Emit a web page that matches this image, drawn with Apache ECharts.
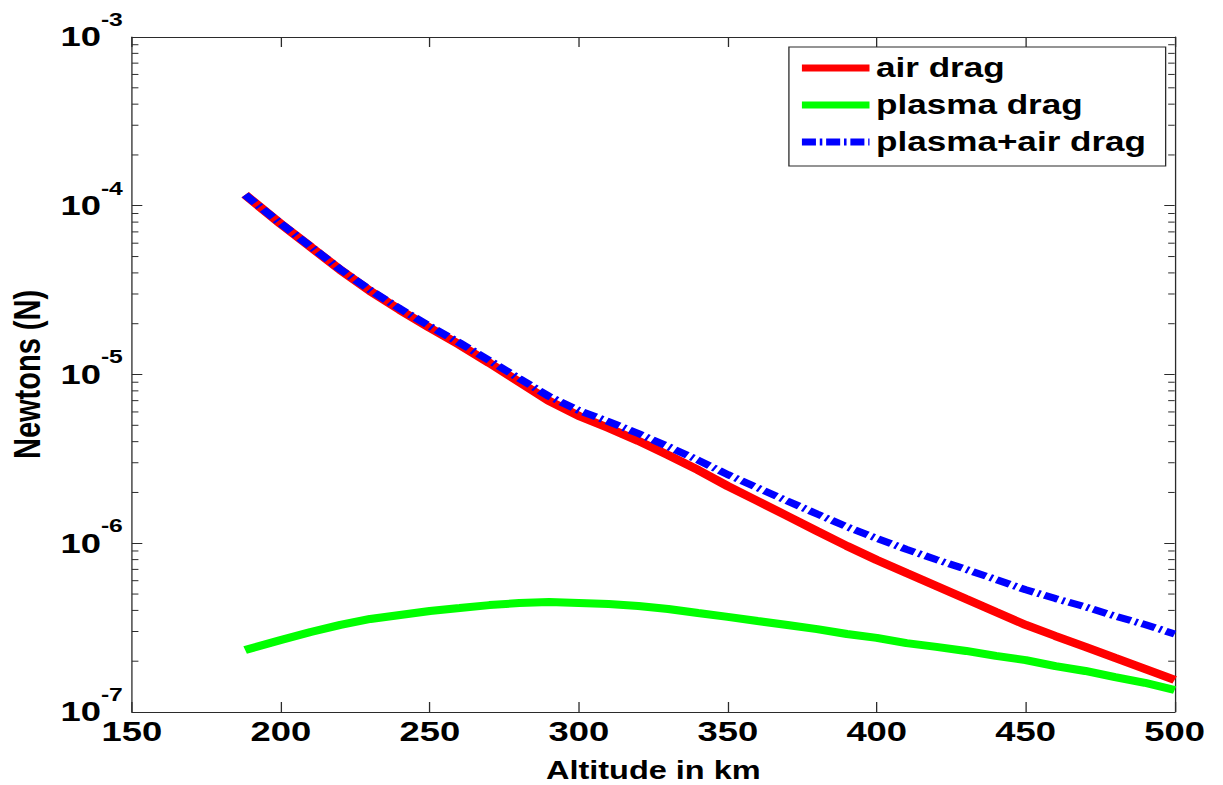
<!DOCTYPE html>
<html>
<head>
<meta charset="utf-8">
<script src="https://cdn.jsdelivr.net/npm/echarts@6/dist/echarts.min.js"></script>
<style>
  html, body { margin: 0; padding: 0; background: #fff; overflow: hidden; }
  #stage { width: 1223px; height: 785px; overflow: hidden; }
  /* the figure is laid out at its native width and stretched to fill the page */
  #chart { width: 941px; height: 785px; transform-origin: 0 0; transform: scaleX(1.2997); }
</style>
</head>
<body>
<div id="stage"><div id="chart"></div></div>
<script>
// Altitude samples (km)
const altitude = [188, 200, 210, 220, 230, 240, 250, 260, 270, 280, 290, 300, 310, 320, 330, 340,
                  350, 360, 370, 380, 390, 400, 410, 420, 430, 440, 450, 460, 470, 480, 490, 500];

// Drag force (N)
const airDrag = [1.16e-4, 7.80e-5, 5.70e-5, 4.16e-5, 3.12e-5, 2.41e-5, 1.89e-5, 1.50e-5, 1.17e-5, 9.03e-6,
                 6.97e-6, 5.68e-6, 4.82e-6, 4.04e-6, 3.33e-6, 2.72e-6, 2.18e-6, 1.78e-6, 1.45e-6, 1.18e-6,
                 9.63e-7, 7.96e-7, 6.66e-7, 5.58e-7, 4.67e-7, 3.91e-7, 3.28e-7, 2.82e-7, 2.43e-7, 2.09e-7,
                 1.80e-7, 1.55e-7];

const plasmaDrag = [2.33e-7, 2.67e-7, 2.98e-7, 3.28e-7, 3.56e-7, 3.76e-7, 3.97e-7, 4.13e-7, 4.30e-7, 4.42e-7,
                    4.48e-7, 4.42e-7, 4.36e-7, 4.25e-7, 4.08e-7, 3.86e-7, 3.66e-7, 3.46e-7, 3.28e-7, 3.10e-7,
                    2.90e-7, 2.75e-7, 2.56e-7, 2.43e-7, 2.30e-7, 2.15e-7, 2.03e-7, 1.87e-7, 1.75e-7, 1.61e-7,
                    1.49e-7, 1.35e-7];

const totalDrag = [1.16e-4, 7.83e-5, 5.73e-5, 4.19e-5, 3.16e-5, 2.45e-5, 1.93e-5, 1.54e-5, 1.21e-5, 9.47e-6,
                   7.42e-6, 6.12e-6, 5.26e-6, 4.47e-6, 3.74e-6, 3.11e-6, 2.55e-6, 2.13e-6, 1.78e-6, 1.49e-6,
                   1.25e-6, 1.07e-6, 9.2e-7, 8.0e-7, 7.0e-7, 6.1e-7, 5.3e-7, 4.7e-7, 4.2e-7, 3.7e-7,
                   3.3e-7, 2.9e-7];

const seriesNames = ['air drag', 'plasma drag', 'plasma+air drag'];

// Log-axis minor tick positions: 2..9 within each decade
const minorMantissas = [2, 3, 4, 5, 6, 7, 8, 9];
const minorDecades = [-7, -6, -5, -4];

const X_MIN = 150, X_MAX = 500, X_STEP = 50;
const Y_MIN = 1e-7, Y_MAX = 1e-3;

const FONT = '"Liberation Sans", Arial, Helvetica, sans-serif';
const AXIS_COLOR = '#2b2b2b';

// legend glyph for the dash-dot line: dash, dot, dash, dot ...
const DASH_DOT_ICON = 'path://M0,0H11V7H0Z M14,0H16V7H14Z M19,0H30V7H19Z M33,0H35V7H33Z M38,0H49V7H38Z M52,0H53V7H52Z';

const pairs = (ys) => altitude.map((a, i) => [a, ys[i]]);
const minorTickData = [];
minorDecades.forEach(d => minorMantissas.forEach(m => minorTickData.push([X_MIN, m * Math.pow(10, d)])));

const chart = echarts.init(document.getElementById('chart'), null, { renderer: 'svg' });

const baseX = {
  type: 'value', min: X_MIN, max: X_MAX, interval: X_STEP,
  splitLine: { show: false },
  axisLine: { show: true, onZero: false, lineStyle: { color: AXIS_COLOR, width: 1 } },
  axisTick: { show: true, inside: true, length: 10, lineStyle: { color: AXIS_COLOR } }
};
const baseY = {
  type: 'log', logBase: 10, min: Y_MIN, max: Y_MAX, splitNumber: 4,
  splitLine: { show: false },
  axisLine: { show: true, lineStyle: { color: AXIS_COLOR, width: 1 } },
  axisTick: { show: true, inside: true, length: 8, lineStyle: { color: AXIS_COLOR } }
};

chart.setOption({
  animation: false,
  backgroundColor: '#ffffff',
  grid: { left: 101.5, right: 37.2, top: 37, bottom: 73, containLabel: false, outerBoundsMode: 'none' },
  legend: {
    data: [
      { name: seriesNames[0], icon: 'rect' },
      { name: seriesNames[1], icon: 'rect' },
      { name: seriesNames[2], icon: DASH_DOT_ICON }
    ],
    orient: 'vertical',
    left: 607, top: 47,
    padding: [7, 15, 10, 10],
    itemWidth: 52, itemHeight: 7, itemGap: 9,
    backgroundColor: '#ffffff',
    borderColor: AXIS_COLOR, borderWidth: 1, borderRadius: 0,
    textStyle: { fontFamily: FONT, fontSize: 27, fontWeight: 'bold', color: '#000', lineHeight: 28 }
  },
  xAxis: [
    Object.assign({}, baseX, {
      position: 'bottom',
      name: 'Altitude in km', nameLocation: 'middle', nameGap: 46,
      nameTextStyle: { fontFamily: FONT, fontSize: 25, fontWeight: 'bold', color: '#000' },
      axisLabel: { show: true, margin: 6, fontFamily: FONT, fontSize: 28, fontWeight: 'bold', color: '#000' }
    }),
    Object.assign({}, baseX, { position: 'top', axisLabel: { show: false } })
  ],
  yAxis: [
    Object.assign({}, baseY, {
      position: 'left',
      name: 'Newtons (N)', nameLocation: 'middle', nameGap: 61,
      nameTextStyle: { fontFamily: FONT, fontSize: 29, fontWeight: 'bold', color: '#000' },
      axisLabel: {
        show: true, margin: 7, color: '#000',
        formatter: (v) => '{z| }{b|10}{s|' + Math.round(Math.log10(v)) + '}',
        rich: {
          z: { fontSize: 1, lineHeight: 54, verticalAlign: 'middle' },
          b: { fontFamily: FONT, fontSize: 28, fontWeight: 'bold', lineHeight: 28, verticalAlign: 'middle', color: '#000' },
          s: { fontFamily: FONT, fontSize: 19, fontWeight: 'bold', lineHeight: 19, verticalAlign: 'top', color: '#000' }
        }
      }
    }),
    Object.assign({}, baseY, { position: 'right', axisLabel: { show: false } })
  ],
  series: [
    {
      name: seriesNames[0], type: 'line', xAxisIndex: 0, yAxisIndex: 0,
      data: pairs(airDrag), symbol: 'none', showSymbol: false,
      color: '#ff0000',
      lineStyle: { color: '#ff0000', width: 8, cap: 'butt' }, z: 2
    },
    {
      name: seriesNames[1], type: 'line', xAxisIndex: 0, yAxisIndex: 0,
      data: pairs(plasmaDrag), symbol: 'none', showSymbol: false,
      color: '#00ff00',
      lineStyle: { color: '#00ff00', width: 8, cap: 'butt' }, z: 2
    },
    {
      name: seriesNames[2], type: 'line', xAxisIndex: 0, yAxisIndex: 0,
      data: pairs(totalDrag), symbol: 'none', showSymbol: false,
      color: '#0000ff',
      lineStyle: { color: '#0000ff', width: 7, type: [11, 3.5, 2, 3.5], cap: 'butt' }, z: 3
    },
    {
      // minor ticks of the log axis on both sides of the box
      type: 'custom', xAxisIndex: 0, yAxisIndex: 0, silent: true, clip: false, z: 1,
      data: minorTickData,
      renderItem: (params, api) => {
        const v = api.value(1);
        const l = api.coord([X_MIN, v]);
        const r = api.coord([X_MAX, v]);
        const st = { stroke: AXIS_COLOR, lineWidth: 1 };
        return {
          type: 'group',
          children: [
            { type: 'line', shape: { x1: l[0], y1: l[1], x2: l[0] + 5, y2: l[1] }, style: st },
            { type: 'line', shape: { x1: r[0] - 5, y1: r[1], x2: r[0], y2: r[1] }, style: st }
          ]
        };
      }
    }
  ]
});
</script>
</body>
</html>
